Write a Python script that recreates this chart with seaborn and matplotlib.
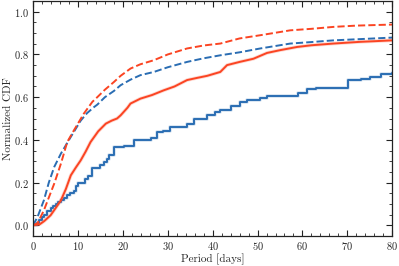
import numpy as np
import pandas as pd
import matplotlib
matplotlib.use("Agg")
import matplotlib.pyplot as plt
import seaborn as sns
from matplotlib.ticker import MultipleLocator

# Data (period [days], normalized CDF)
blue_solid_p = [0, 0.8, 1.3, 1.9, 2.5, 3.2, 3.9, 4.5, 5, 5.6, 6.2, 6.9, 7.6, 8.3, 9, 9.6, 10.1,
                11.5, 12.2, 13.2, 14.2, 15, 15.8, 16.5, 17, 18, 20.2,
                22.4, 26.2, 27.6, 29, 30.6, 34.3, 35.8, 38.8, 40.5, 41.7, 44, 46.2, 47.6, 50.6,
                52.1, 57, 59, 61, 63, 68, 70.2, 73, 75, 77.6, 80]
blue_solid_c = [0, 0.012, 0.025, 0.04, 0.05, 0.065, 0.08, 0.09, 0.1, 0.11, 0.12, 0.13, 0.142,
                0.15, 0.16, 0.185, 0.2, 0.215, 0.23, 0.267, 0.27, 0.28, 0.298,
                0.31, 0.33, 0.365, 0.373, 0.40, 0.407, 0.435, 0.44, 0.46, 0.476, 0.50, 0.515, 0.53,
                0.542, 0.56, 0.578, 0.585, 0.596, 0.604, 0.604, 0.62, 0.64, 0.645, 0.645, 0.68,
                0.685, 0.695, 0.707, 0.713]

red_solid_p = [0, 1.5, 2.5, 3.9, 5, 6.2, 7.3, 8.4, 9.5, 10.6, 11.7, 12.8, 14.5, 16.2, 17.5, 18.7,
               19.5, 21, 21.7, 23.9, 26.5, 29.1, 31.5, 34.3, 36.5, 38.8, 41.7, 43.2, 46, 49.1,
               52.1, 55, 58.8, 62, 66.9, 72.8, 76, 80]
red_solid_c = [0, 0.005, 0.02, 0.047, 0.08, 0.117, 0.17, 0.234, 0.27, 0.304, 0.345, 0.39, 0.44,
               0.476, 0.49, 0.50, 0.515, 0.55, 0.57, 0.593, 0.61, 0.632, 0.65, 0.68, 0.69, 0.70,
               0.718, 0.75, 0.765, 0.78, 0.807, 0.82, 0.835, 0.843, 0.851, 0.859, 0.862, 0.866]

blue_dash_p = [0, 0.2, 1, 2.4, 3.5, 4.7, 6.2, 8.4, 10.6, 12, 13.6, 14.3, 16, 18, 19.5, 21.7, 23.9,
               26.9, 30, 34.3, 38, 41.7, 46, 50.6, 57.3, 62, 66.9, 72, 80]
blue_dash_c = [0, 0.008, 0.04, 0.117, 0.2, 0.273, 0.336, 0.414, 0.49, 0.525, 0.554, 0.565, 0.6,
               0.629, 0.656, 0.682, 0.703, 0.718, 0.74, 0.765, 0.782, 0.796, 0.81, 0.828, 0.851,
               0.858, 0.866, 0.871, 0.879]

red_dash_p = [0, 1, 2.4, 3.5, 4.7, 6.2, 7.6, 9.1, 11.3, 13.2, 14.3, 16, 18, 19.5, 21.7, 23.9, 26.9,
              30, 34.3, 38, 41.7, 46, 50.6, 57.3, 62, 66.9, 72, 80]
red_dash_c = [0, 0.01, 0.07, 0.13, 0.195, 0.289, 0.39, 0.445, 0.523, 0.578, 0.6, 0.635, 0.671,
              0.70, 0.734, 0.754, 0.773, 0.80, 0.828, 0.842, 0.851, 0.875, 0.89, 0.913, 0.92,
              0.929, 0.935, 0.94]

BLUE = "#2a6db3"
RED = "#fb4422"

sns.set_style("ticks")
plt.rcParams["font.family"] = ["serif"]
plt.rcParams["font.serif"] = ["cmr10", "DejaVu Serif"]
plt.rcParams["axes.formatter.use_mathtext"] = True
plt.rcParams["mathtext.fontset"] = "cm"

fig = plt.figure(figsize=(3.99, 2.66), dpi=100)
ax = fig.add_axes([0.083, 0.113, 0.9, 0.883])

series = [
    (blue_solid_p, blue_solid_c, BLUE, "-", "steps-post"),
    (red_solid_p, red_solid_c, RED, "-", "default"),
    (blue_dash_p, blue_dash_c, BLUE, "--", "default"),
    (red_dash_p, red_dash_c, RED, "--", "default"),
]
for p, c, col, ls, ds in series:
    df = pd.DataFrame({"Period": p, "CDF": c})
    if ls == "-":
        sns.lineplot(data=df, x="Period", y="CDF", ax=ax, color=col, linewidth=2.6,
                     alpha=0.2, estimator=None, drawstyle=ds)
    sns.lineplot(data=df, x="Period", y="CDF", ax=ax, color=col, linestyle=ls,
                 linewidth=1.4, estimator=None, drawstyle=ds,
                 dashes=(2.4, 1.4) if ls == "--" else "")

ax.set_xlim(0, 80)
ax.set_ylim(-0.05, 1.05)
ax.xaxis.set_major_locator(MultipleLocator(10))
ax.xaxis.set_minor_locator(MultipleLocator(2))
ax.yaxis.set_major_locator(MultipleLocator(0.2))
ax.yaxis.set_minor_locator(MultipleLocator(0.05))
ax.tick_params(which="both", direction="in", top=True, right=True, labelsize=7.5,
               color="#222222", pad=3)
ax.tick_params(which="major", length=4, width=0.8)
ax.tick_params(which="minor", length=2, width=0.6)
for s in ax.spines.values():
    s.set_linewidth(0.9)
    s.set_color("#222222")
ax.set_xlabel("Period [days]", fontsize=8, labelpad=1)
ax.set_ylabel("Normalized CDF", fontsize=8, labelpad=1)

fig.savefig("out.png", dpi=100)
